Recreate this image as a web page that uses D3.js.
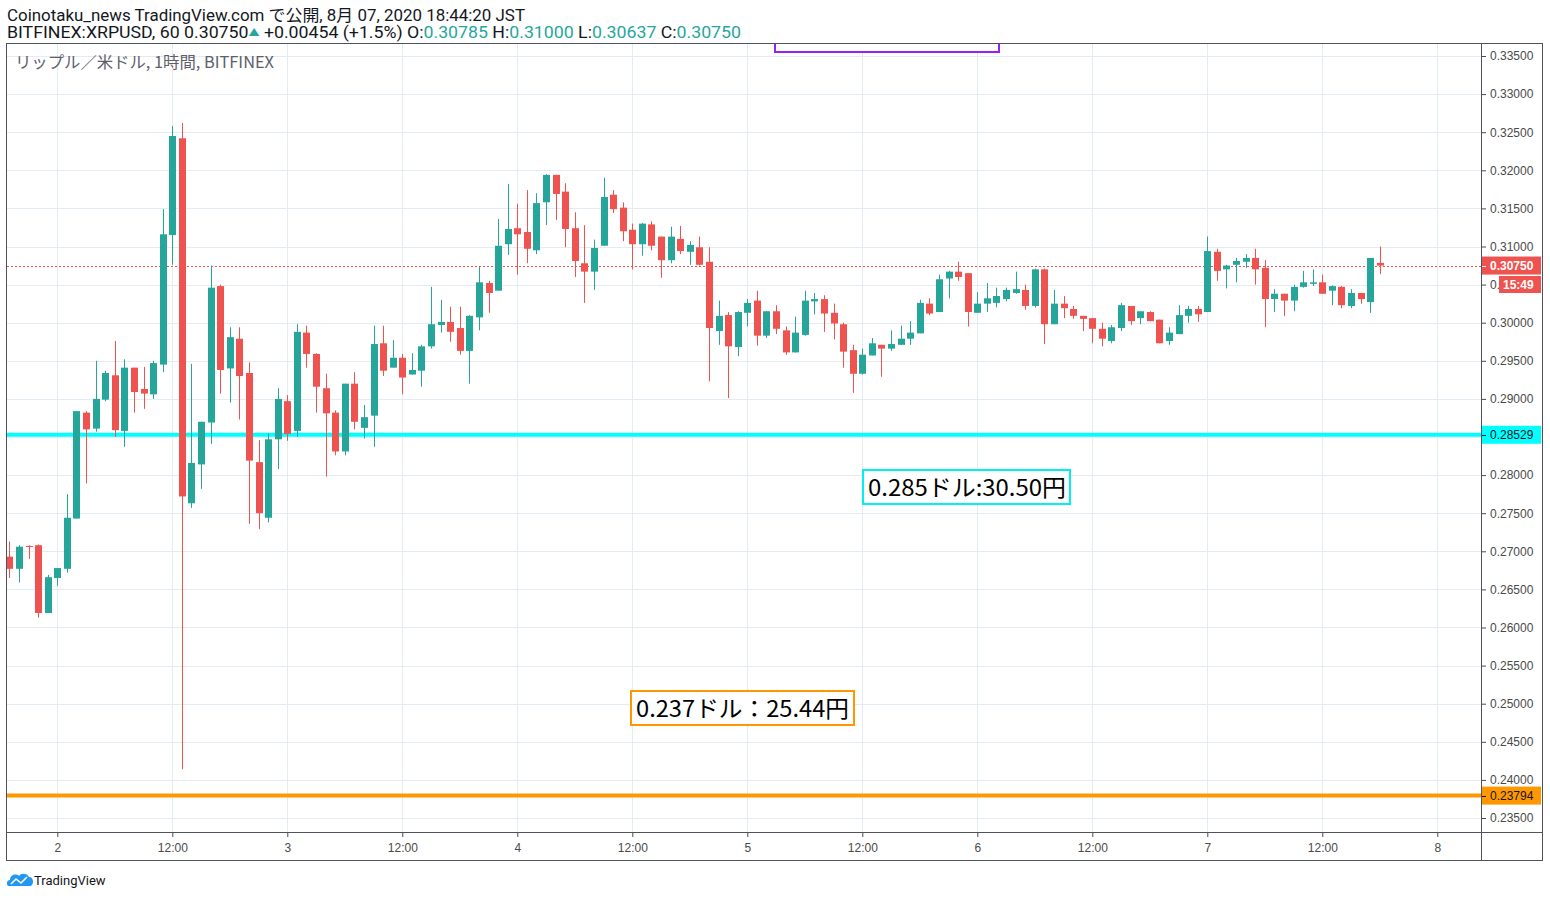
<!DOCTYPE html>
<html>
<head>
<meta charset="utf-8">
<style>
    body { margin: 0; background: #fff; }
    svg { display: block; }
    text { font-family: Roboto, "Noto Sans CJK JP", sans-serif; }
    .axis text { font-size: 12px; fill: #4a4a4a; font-family: "Liberation Sans", Roboto, sans-serif; }
    .axis .domain { display: none; }
    .axis .tick line { stroke: #4a4a4a; }
    .grid line { stroke: #e3ecf3; stroke-width: 1; }
    .hdr { font-size: 16px; fill: #131722; }
    .up { fill: #26a69a; }
</style>
</head>
<body>
<svg width="1550" height="898"></svg>

<script src="https://d3js.org/d3.v7.min.js"></script>
<script>
    // hourly candles, first one is Aug 1 19:00 (chart time), last one Aug 7 18:00
    let firstHour = Date.UTC(2020, 7, 1, 19)

    let openP = [
        .2693, .2677, .2707, .2708, .2619, .2665, .2677, .2743, .2882, .2861, .2899, .2931,
        .2858, .2941, .2913, .2906, .2945, .3115, .3242, .2763, .2814, .2869, .3048, .2940,
        .2979, .2934, .2817, .2744, .2847, .2897, .2858, .2987, .2959, .2914, .2882, .2831,
        .2920, .2862, .2878, .2973, .2941, .2954, .2932, .2937, .2969, .2997, .3001, .2993,
        .2963, .3007, .3052, .3042, .3103, .3124, .3119, .3095, .3158, .3194, .3172, .3124,
        .3078, .3067, .3101, .3168, .3151, .3122, .3103, .3129, .3113, .3082, .3110, .3093,
        .3099, .3080, .2989, .3010, .2968, .3013, .3029, .2983, .3015, .2990, .2961, .2984,
        .3028, .3031, .3013, .2998, .2964, .2933, .2957, .2971, .2966, .2971, .2979, .2986,
        .3025, .3014, .3058, .3067, .3065, .3013, .3025, .3026, .3031, .3039, .3043, .3022,
        .3070, .2998, .3025, .3018, .3009, .3006, .2992, .2976, .2993, .3022, .3006, .3014,
        .3004, .2976, .2985, .3009, .3018, .3014, .3093, .3070, .3076, .3080, .3085, .3072,
        .3031, .3038, .3029, .3047, .3051, .3053, .3042, .3047, .3022, .3039, .3027, .30785
    ]
    let highP = [
        .2713, .2708, .2708, .2709, .2669, .2678, .2775, .2884, .2884, .2950, .2937, .2976,
        .2952, .2941, .2942, .2950, .3149, .3258, .3262, .2946, .2870, .3075, .3050, .2994,
        .2994, .2948, .2846, .2855, .2914, .2905, .2998, .2996, .2960, .2933, .2885, .2920,
        .2935, .2892, .2996, .2996, .2977, .2959, .2960, .2971, .3047, .3030, .3021, .3021,
        .3010, .3073, .3055, .3136, .3182, .3156, .3174, .3170, .3195, .3194, .3183, .3145,
        .3128, .3109, .3190, .3174, .3158, .3130, .3131, .3133, .3113, .3126, .3127, .3107,
        .3113, .3099, .3029, .3014, .3015, .3031, .3042, .3015, .3023, .2995, .3008, .3042,
        .3039, .3036, .3025, .3000, .2971, .2966, .2980, .2971, .2990, .2996, .3002, .3030,
        .3032, .3063, .3068, .3080, .3065, .3040, .3052, .3046, .3046, .3067, .3050, .3071,
        .3071, .3043, .3035, .3022, .3009, .3006, .3000, .2997, .3026, .3022, .3015, .3015,
        .3004, .2994, .3023, .3022, .3022, .3113, .3097, .3076, .3085, .3090, .3097, .3082,
        .3044, .3038, .3050, .3068, .3070, .3063, .3049, .3048, .3044, .3039, .3085, .31000
    ]
    let lowP = [
        .2665, .2659, .2690, .2613, .2619, .2655, .2672, .2743, .2789, .2857, .2897, .2850,
        .2837, .2882, .2887, .2900, .2935, .3076, .2414, .2757, .2782, .2841, .2907, .2895,
        .2873, .2736, .2729, .2738, .2808, .2845, .2850, .2941, .2882, .2798, .2826, .2826,
        .2860, .2848, .2837, .2930, .2941, .2906, .2932, .2916, .2966, .2987, .2975, .2958,
        .2920, .2990, .3013, .3042, .3089, .3063, .3078, .3090, .3128, .3135, .3099, .3060,
        .3026, .3043, .3101, .3144, .3107, .3070, .3088, .3095, .3059, .3078, .3090, .3076,
        .3075, .2923, .2971, .2901, .2956, .2995, .2970, .2980, .2985, .2958, .2961, .2983,
        .3011, .2988, .2978, .2941, .2908, .2932, .2957, .2929, .2963, .2971, .2971, .2986,
        .3010, .3014, .3032, .3055, .2995, .3013, .3014, .3020, .3028, .3038, .3017, .3020,
        .2972, .2998, .3006, .3005, .2989, .2973, .2969, .2973, .2989, .2997, .2998, .3002,
        .2973, .2971, .2985, .3000, .3001, .3014, .3055, .3045, .3053, .3072, .3050, .2994,
        .3014, .3009, .3015, .3046, .3048, .3038, .3023, .3019, .3019, .3025, .3013, .30637
    ]
    let closeP = [
        .2677, .2706, .2706, .2619, .2666, .2678, .2744, .2884, .2860, .2900, .2934, .2859,
        .2941, .2909, .2907, .2947, .3116, .3245, .2772, .2816, .2870, .3046, .2938, .2981,
        .2930, .2819, .2750, .2847, .2900, .2854, .2988, .2959, .2916, .2881, .2831, .2920,
        .2870, .2876, .2972, .2937, .2954, .2928, .2938, .2969, .2998, .3001, .2988, .2963,
        .3009, .3053, .3039, .3101, .3123, .3116, .3097, .3157, .3194, .3169, .3123, .3081,
        .3067, .3098, .3165, .3149, .3120, .3103, .3130, .3101, .3082, .3113, .3094, .3102,
        .3076, .2993, .3009, .2969, .3014, .3026, .2983, .3015, .2992, .2961, .2987, .3029,
        .3031, .3012, .2999, .2962, .2933, .2958, .2973, .2966, .2972, .2979, .2987, .3026,
        .3012, .3057, .3067, .3060, .3014, .3025, .3032, .3035, .3043, .3044, .3022, .3070,
        .2998, .3025, .3019, .3009, .3005, .2992, .2979, .2994, .3023, .3002, .3015, .3002,
        .2973, .2987, .3010, .3018, .3011, .3094, .3068, .3075, .3081, .3085, .3070, .3031,
        .3038, .3029, .3047, .3053, .3053, .3038, .3048, .3023, .3039, .3031, .3085, .30750
    ]

    let priceTicks = [0.235, 0.24, 0.245, 0.25, 0.255, 0.26, 0.265, 0.27, 0.275, 0.28, 0.285,
        0.29, 0.295, 0.30, 0.305, 0.31, 0.315, 0.32, 0.325, 0.33, 0.335]
    let timeTicks = [
        Date.UTC(2020, 7, 2, 0), Date.UTC(2020, 7, 2, 12), Date.UTC(2020, 7, 3, 0), Date.UTC(2020, 7, 3, 12),
        Date.UTC(2020, 7, 4, 0), Date.UTC(2020, 7, 4, 12), Date.UTC(2020, 7, 5, 0), Date.UTC(2020, 7, 5, 12),
        Date.UTC(2020, 7, 6, 0), Date.UTC(2020, 7, 6, 12), Date.UTC(2020, 7, 7, 0), Date.UTC(2020, 7, 7, 12),
        Date.UTC(2020, 7, 8, 0)].map(d => new Date(d))

    let lastPrice = 0.30750
    let cyanLevel = 0.28529
    let orangeLevel = 0.23794
    let cyanNote = "0.285ドル:30.50円"
    let orangeNote = "0.237ドル：25.44円"

    let plot = { left: 7, right: 1481, top: 43, bottom: 832 }

    let svg = d3.select("svg")

    let candles = openP.map((o, i) => ({
        t: new Date(firstHour + i * 3600e3),
        o: o, h: highP[i], l: lowP[i], c: closeP[i]
    }))

    let x = d3.scaleUtc()
        .domain([new Date(Date.UTC(2020, 7, 2, 0)), new Date(Date.UTC(2020, 7, 8, 0))])
        .range([57.3, 1437.3])

    let y = d3.scaleLinear()
        .domain([0.235, 0.335])
        .range([818, 56])

    // headline
    svg.append("text").attr("class", "hdr").attr("x", 7).attr("y", 21)
        .attr("textLength", 518).attr("lengthAdjust", "spacingAndGlyphs")
        .text("Coinotaku_news TradingView.com で公開, 8月 07, 2020 18:44:20 JST")

    let h2 = svg.append("text").attr("class", "hdr").attr("x", 7).attr("y", 38)
        .attr("textLength", 734).attr("lengthAdjust", "spacingAndGlyphs")
    h2.append("tspan").text("BITFINEX:XRPUSD, 60 0.30750")
    h2.append("tspan").attr("class", "up").style("font-size", "10px").attr("dy", -2).text("▲")
    h2.append("tspan").attr("dy", 2).text(" +0.00454 (+1.5%) O:")
    h2.append("tspan").attr("class", "up").text("0.30785")
    h2.append("tspan").text(" H:")
    h2.append("tspan").attr("class", "up").text("0.31000")
    h2.append("tspan").text(" L:")
    h2.append("tspan").attr("class", "up").text("0.30637")
    h2.append("tspan").text(" C:")
    h2.append("tspan").attr("class", "up").text("0.30750")

    svg.append("clipPath").attr("id", "plotclip")
        .append("rect")
        .attr("x", plot.left).attr("y", plot.top)
        .attr("width", plot.right - plot.left).attr("height", plot.bottom - plot.top)

    // grid
    let grid = svg.append("g").attr("class", "grid")
    grid.selectAll(".hg").data(priceTicks).join("line")
        .attr("x1", plot.left).attr("x2", plot.right)
        .attr("y1", d => Math.round(y(d)) + 0.5).attr("y2", d => Math.round(y(d)) + 0.5)
    grid.selectAll(".vg").data(timeTicks).join("line")
        .attr("y1", plot.top).attr("y2", plot.bottom)
        .attr("x1", d => Math.round(x(d)) + 0.5).attr("x2", d => Math.round(x(d)) + 0.5)

    svg.append("text")
        .attr("x", 15).attr("y", 68)
        .attr("textLength", 259).attr("lengthAdjust", "spacingAndGlyphs")
        .style("font-size", "16px").style("fill", "#5d606b")
        .style("font-family", "'Noto Sans CJK JP', sans-serif")
        .text("リップル／米ドル, 1時間, BITFINEX")

    let inner = svg.append("g").attr("clip-path", "url(#plotclip)")

    // purple note box, mostly above the visible area
    inner.append("rect")
        .attr("x", 775).attr("y", 10).attr("width", 224).attr("height", 42)
        .attr("fill", "#fff").attr("stroke", "#9c1ff2").attr("stroke-width", 2)

    // horizontal levels
    inner.append("line")
        .attr("x1", plot.left).attr("x2", plot.right)
        .attr("y1", y(cyanLevel)).attr("y2", y(cyanLevel))
        .attr("stroke", "#00ffff").attr("stroke-width", 4)
    inner.append("line")
        .attr("x1", plot.left).attr("x2", plot.right)
        .attr("y1", y(orangeLevel)).attr("y2", y(orangeLevel))
        .attr("stroke", "#ff9800").attr("stroke-width", 4)

    // last price dotted line
    inner.append("line")
        .attr("x1", plot.left).attr("x2", plot.right)
        .attr("y1", Math.round(y(lastPrice)) + 0.5).attr("y2", Math.round(y(lastPrice)) + 0.5)
        .attr("stroke", "#ef5350").attr("stroke-width", 1).attr("stroke-dasharray", "2,2")

    // candles
    let cx = d => Math.round(x(d.t)) + 0.5
    let col = d => d.c >= d.o ? "#26a69a" : "#ef5350"

    let cg = inner.append("g").attr("class", "candles")
    cg.selectAll("line").data(candles).join("line")
        .attr("x1", cx).attr("x2", cx)
        .attr("y1", d => y(d.h)).attr("y2", d => y(d.l))
        .attr("stroke", col).attr("stroke-width", 1)
    cg.selectAll("rect").data(candles).join("rect")
        .attr("x", d => cx(d) - 3.5)
        .attr("width", 7)
        .attr("y", d => y(Math.max(d.o, d.c)))
        .attr("height", d => Math.max(1, Math.abs(y(d.o) - y(d.c))))
        .attr("fill", col)

    // notes
    function note(txt, bx, by, bw, tw, color) {
        let g = inner.append("g")
        g.append("rect").attr("x", bx).attr("y", by).attr("width", bw).attr("height", 34)
            .attr("fill", "#fff").attr("stroke", color).attr("stroke-width", 2)
        g.append("text").attr("x", bx + 5).attr("y", by + 26)
            .attr("textLength", tw).attr("lengthAdjust", "spacingAndGlyphs")
            .style("font-size", "23px").style("fill", "#000")
            .style("font-family", "'Noto Sans CJK JP', sans-serif")
            .text(txt)
    }
    note(cyanNote, 863, 470, 207, 198, "#00f0f0")
    note(orangeNote, 631, 691, 223, 213, "#ff9800")

    // frame
    svg.append("rect").attr("x", 6.5).attr("y", 43.5).attr("width", 1536).attr("height", 817)
        .attr("fill", "none").attr("stroke", "#50535e")
    svg.append("line").attr("x1", plot.right + 0.5).attr("x2", plot.right + 0.5)
        .attr("y1", 43).attr("y2", 861).attr("stroke", "#50535e")
    svg.append("line").attr("x1", 7).attr("x2", 1543)
        .attr("y1", plot.bottom + 0.5).attr("y2", plot.bottom + 0.5).attr("stroke", "#50535e")

    // axes
    let yAxis = d3.axisRight(y)
        .tickValues(priceTicks)
        .tickSize(4)
        .tickPadding(4)
        .tickFormat(d3.format(".5f"))
    let yg = svg.append("g").attr("class", "y axis")
        .attr("transform", `translate(${plot.right + 1},0)`)
        .call(yAxis)
    // the countdown tag sits over the 0.305 label, only "0." peeks out
    yg.selectAll(".tick text").filter(d => Math.abs(d - 0.305) < 1e-9).text("0.")

    let xAxis = d3.axisBottom(x)
        .tickValues(timeTicks)
        .tickSize(4)
        .tickPadding(6)
        .tickFormat(d => d.getUTCHours() == 0 ? String(d.getUTCDate()) : "12:00")
    svg.append("g").attr("class", "x axis")
        .attr("transform", `translate(0,${plot.bottom + 1})`)
        .call(xAxis)

    // price labels on the scale
    function tag(val, bg, fg, bx, bw, bold) {
        let yy = y(val)
        svg.append("rect").attr("x", bx).attr("y", yy - 9).attr("width", bw).attr("height", 18).attr("fill", bg)
        svg.append("line").attr("x1", plot.right + 1).attr("x2", plot.right + 5)
            .attr("y1", Math.round(yy) + 0.5).attr("y2", Math.round(yy) + 0.5).attr("stroke", fg)
        svg.append("text").attr("x", bx + 8).attr("y", yy + 4)
            .style("font-size", "12px").style("fill", fg)
            .style("font-family", "'Liberation Sans', sans-serif")
            .style("font-weight", bold ? "bold" : "normal")
            .text(d3.format(".5f")(val))
    }
    tag(cyanLevel, "#00ffff", "#131722", 1482, 59, false)
    tag(orangeLevel, "#ff9800", "#131722", 1482, 59, false)
    tag(lastPrice, "#ef5350", "#fff", 1482, 59, true)

    svg.append("rect").attr("x", 1499).attr("y", 276).attr("width", 42).attr("height", 17).attr("fill", "#ef5350")
    svg.append("text").attr("x", 1503).attr("y", 289)
        .style("font-size", "12px").style("fill", "#fff").style("font-weight", "bold")
        .style("font-family", "'Liberation Sans', sans-serif")
        .text("15:49")

    // logo
    let logo = svg.append("g").attr("transform", "translate(7,872)")
    logo.append("path")
        .attr("d", "M2,14 C-1,14 -1,8 3,8 C3,3 9,1 12,4 C14,1 20,1 22,5 C26,5 27,10 25,13 C24,14 23,14 22,14 Z")
        .attr("fill", "#2196f3")
    logo.append("path")
        .attr("d", "M4,12 L9,7 L14,11 L20,5")
        .attr("fill", "none").attr("stroke", "#fff").attr("stroke-width", 1.6)
    svg.append("text").attr("x", 34).attr("y", 885)
        .style("font-size", "13px").style("fill", "#131722")
        .text("TradingView")
</script>
</body>
</html>
